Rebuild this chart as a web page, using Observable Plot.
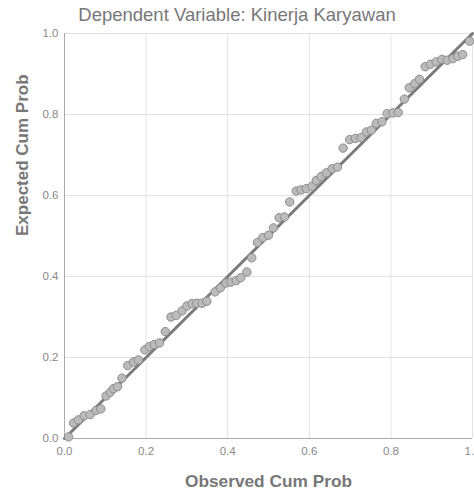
<!DOCTYPE html>
<html>
<head>
<meta charset="utf-8">
<script src="https://cdn.jsdelivr.net/npm/d3@7"></script>
<script src="https://cdn.jsdelivr.net/npm/@observablehq/plot@0.6"></script>
<style>
  html, body { margin: 0; padding: 0; background: #fff; overflow: hidden; }
  #title { width: 474px; height: 24px; box-sizing: border-box; padding-top: 6px; text-align: center;
           font: 18.5px "Liberation Sans", Arial, sans-serif; line-height: 18px; color: #777; white-space: nowrap; }
</style>
</head>
<body>
<div id="title"></div>
<div id="chart"></div>
<script>
const titleText = "Dependent Variable: Kinerja Karyawan";
const xLabel = "Observed Cum Prob";
const yLabel = "Expected Cum Prob";
const ticks = [0, 0.2, 0.4, 0.6, 0.8, 1.0];
const tickLabels = ["0.0", "0.2", "0.4", "0.6", "0.8", "1.0"];
const refX = [0, 1];
const refY = [0, 1];

const observed = [
  0.010, 0.022, 0.034, 0.048, 0.063, 0.077, 0.089, 0.102, 0.112, 0.120,
  0.130, 0.141, 0.155, 0.169, 0.181, 0.197, 0.208, 0.220, 0.233, 0.247,
  0.261, 0.274, 0.288, 0.300, 0.312, 0.324, 0.337, 0.349, 0.369, 0.382,
  0.396, 0.408, 0.421, 0.432, 0.447, 0.459, 0.473, 0.486, 0.500, 0.512,
  0.526, 0.539, 0.552, 0.568, 0.580, 0.593, 0.607, 0.617, 0.629, 0.642,
  0.656, 0.669, 0.683, 0.699, 0.713, 0.727, 0.740, 0.752, 0.764, 0.778,
  0.791, 0.805, 0.818, 0.833, 0.845, 0.858, 0.870, 0.884, 0.897, 0.911,
  0.925, 0.938, 0.952, 0.964, 0.976, 0.993
];
const expected = [
  0.004, 0.038, 0.046, 0.056, 0.059, 0.069, 0.073, 0.105, 0.114, 0.123,
  0.128, 0.149, 0.180, 0.189, 0.194, 0.219, 0.227, 0.232, 0.236, 0.264,
  0.300, 0.304, 0.315, 0.327, 0.333, 0.334, 0.334, 0.339, 0.362, 0.372,
  0.384, 0.386, 0.390, 0.397, 0.411, 0.446, 0.484, 0.496, 0.502, 0.520,
  0.545, 0.547, 0.584, 0.611, 0.614, 0.617, 0.623, 0.637, 0.647, 0.656,
  0.666, 0.670, 0.717, 0.738, 0.741, 0.743, 0.757, 0.761, 0.778, 0.782,
  0.802, 0.804, 0.805, 0.838, 0.866, 0.876, 0.887, 0.918, 0.924, 0.930,
  0.936, 0.934, 0.938, 0.944, 0.948, 0.981
];

document.getElementById("title").textContent = titleText;

const points = observed.map((x, i) => ({x, y: expected[i]}));
const refLine = refX.map((x, i) => ({x, y: refY[i]}));
const gridTicks = ticks.slice(1);
const fmt = d => tickLabels[ticks.indexOf(d)];

const chart = Plot.plot({
  width: 474,
  height: 471,
  marginLeft: 64,
  marginRight: 2,
  marginTop: 9,
  marginBottom: 57,
  style: {fontFamily: "'Liberation Sans', Arial, sans-serif", color: "#888", background: "transparent", overflow: "visible"},
  x: {domain: [0, 1]},
  y: {domain: [0, 1]},
  marks: [
    Plot.ruleX(gridTicks, {stroke: "#e2e2e2", strokeWidth: 1}),
    Plot.ruleY(gridTicks, {stroke: "#e2e2e2", strokeWidth: 1}),
    Plot.ruleX([0], {stroke: "#aaa", strokeWidth: 1}),
    Plot.ruleY([0], {stroke: "#aaa", strokeWidth: 1}),
    Plot.axisX(ticks, {tickFormat: fmt, tickSize: 0, tickPadding: 8, fontSize: 11.5, fill: "#888", label: null}),
    Plot.axisY(ticks, {tickFormat: fmt, tickSize: 0, tickPadding: 6, fontSize: 11.5, fill: "#888", label: null}),
    Plot.line(refLine, {x: "x", y: "y", stroke: "#7a7a7a", strokeWidth: 3}),
    Plot.dot(points, {x: "x", y: "y", r: 4.2, fill: "#bbbbbb", stroke: "#8c8c8c", strokeWidth: 1}),
    Plot.text([xLabel], {frameAnchor: "bottom", dy: 48, fontSize: 17.3, fontWeight: "bold", fill: "#777", lineAnchor: "bottom"}),
    Plot.text([yLabel], {frameAnchor: "left", dx: -42, rotate: -90, fontSize: 17, fontWeight: "bold", fill: "#777", lineAnchor: "middle"})
  ]
});
document.getElementById("chart").appendChild(chart);
</script>
</body>
</html>
